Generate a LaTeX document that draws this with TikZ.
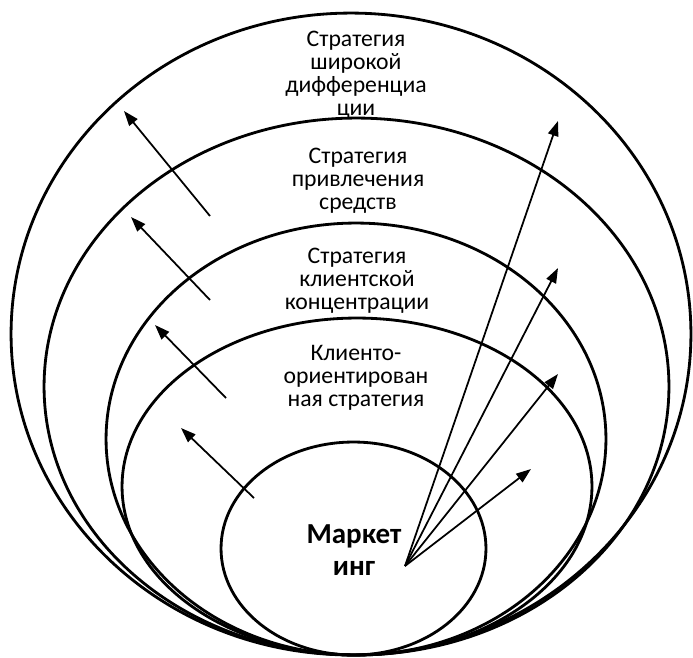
\documentclass[tikz,border=0pt]{standalone}
\usepackage{fontspec}
\setmainfont{Carlito}
\usepackage{tikz}
\usetikzlibrary{arrows.meta, positioning, shapes.geometric}

\begin{document}
\begin{tikzpicture}[
          x=0.02cm, y=-0.02cm,
          ring/.style={ellipse, draw, line width=1.6pt, inner sep=0pt, outer sep=0pt},
          ringtext/.style={align=center, font=\fontsize{13.5}{13}\selectfont},
          core/.style={align=center, font=\fontsize{16.5}{18.5}\selectfont\bfseries},
          arr/.style={-{Triangle[length=8.5pt, width=6pt]}, line width=1pt}
        ]
          \useasboundingbox (0,0) rectangle (693,657);
          \node[ringtext] (t1) at (356,75) {Стратегия\\широкой\\дифференциа\\ции};
          \node[ringtext] (t2) at (358,181) {Стратегия\\привлечения\\средств};
          \node[ringtext] (t3) at (357,281) {Стратегия\\клиентской\\концентрации};
          \node[ringtext] (t4) at (356,378) {Клиенто-\\ориентирован\\ная стратегия};
          \node[core] (m) at (354,550) {Маркет\\инг};
          \node[ring, minimum width=13.6cm, minimum height=12.84cm] (e1) at (351,334) {};
          \node[ring, minimum width=12.5cm, minimum height=10.74cm] (e2) at (356.5,386.5) {};
          \node[ring, minimum width=10cm, minimum height=8.64cm] (e3) at (356,439) {};
          \node[ring, minimum width=9.4cm, minimum height=6.74cm] (e4) at (357,486.5) {};
          \node[ring, minimum width=5.3cm, minimum height=4.26cm] (e5) at (353.5,548.5) {};
          \coordinate (a1) at (210,216); \coordinate (b1) at (124,111);
          \coordinate (a2) at (210,300); \coordinate (b2) at (131,217);
          \coordinate (a3) at (226,398); \coordinate (b3) at (155,325);
          \coordinate (a4) at (254,498); \coordinate (b4) at (181,428);
          \draw[arr] (a1) -- (b1);
          \draw[arr] (a2) -- (b2);
          \draw[arr] (a3) -- (b3);
          \draw[arr] (a4) -- (b4);
          \coordinate (src) at (405,566);
          \coordinate (r1) at (558,121);
          \coordinate (r2) at (558,268);
          \coordinate (r3) at (558,374);
          \coordinate (r4) at (531,469);
          \draw[arr] (src) -- (r1);
          \draw[arr] (src) -- (r2);
          \draw[arr] (src) -- (r3);
          \draw[arr] (src) -- (r4);
        \end{tikzpicture}
\end{document}
